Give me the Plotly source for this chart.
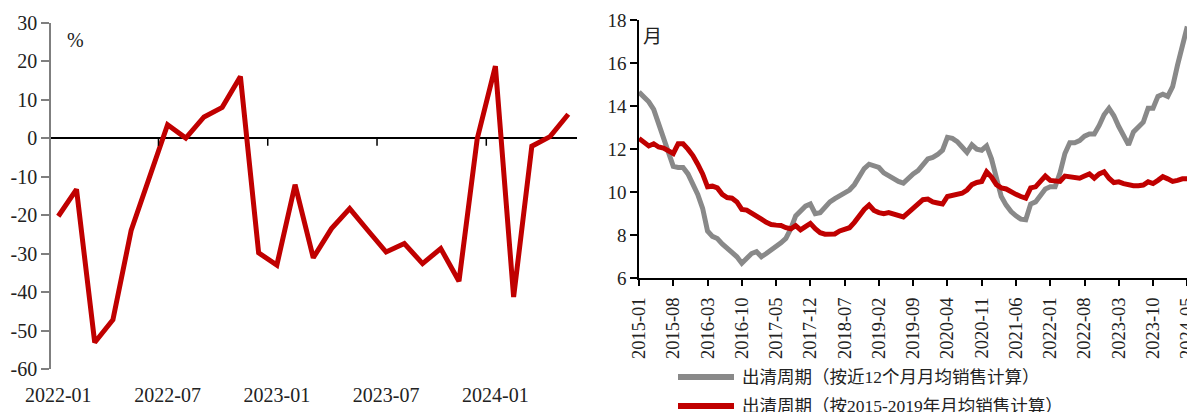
import pandas as pd
import plotly.graph_objects as go

# ---------------- data ----------------
left_months = [d.strftime("%Y-%m") for d in pd.date_range("2022-01-01", "2024-05-01", freq="MS")]
left_values = [-20.3, -13.3, -53.1, -47.2, -24.0, -10.0, 3.5, 0.0, 5.5, 8.0, 16.0, -29.8,
               -33.0, -12.1, -31.1, -23.5, -18.3, -24.0, -29.6, -27.4, -32.6, -28.7, -37.2, -0.2,
               18.7, -41.3, -2.1, 0.4, 6.2]
left_ticks = ["2022-01", "2022-07", "2023-01", "2023-07", "2024-01"]
left_yticks = [30, 20, 10, 0, -10, -20, -30, -40, -50, -60]

right_months = [d.strftime("%Y-%m") for d in pd.date_range("2015-01-01", "2024-05-01", freq="MS")]
grey_values = [14.65, 14.45, 14.2, 13.85, 13.2, 12.5, 11.8, 11.2, 11.15, 11.15, 10.85, 10.35,
               9.9, 9.25, 8.2, 7.95, 7.85, 7.6, 7.4, 7.2, 7.0, 6.7, 6.95, 7.15,
               7.24, 7.0, 7.15, 7.3, 7.5, 7.65, 7.85, 8.3, 8.9, 9.15, 9.35, 9.45,
               9.0, 9.05, 9.3, 9.55, 9.7, 9.85, 9.95, 10.1, 10.35, 10.75, 11.1, 11.3,
               11.2, 11.15, 10.9, 10.75, 10.6, 10.5, 10.42, 10.65, 10.85, 11.0, 11.3, 11.55,
               11.62, 11.75, 11.95, 12.55, 12.5, 12.35, 12.1, 11.85, 12.2, 12.0, 11.95, 12.15,
               11.55, 10.6, 9.8, 9.4, 9.1, 8.9, 8.75, 8.72, 9.45, 9.55, 9.85, 10.15,
               10.25, 10.25, 10.9, 11.8, 12.3, 12.3, 12.4, 12.6, 12.7, 12.7, 13.1, 13.6,
               13.9, 13.55, 13.05, 12.6, 12.2, 12.8, 13.05, 13.25, 13.9, 13.9, 14.45, 14.55,
               14.45, 14.9, 15.9, 16.9, 17.7]
red_values = [12.5, 12.35, 12.15, 12.25, 12.1, 12.05, 11.95, 11.8, 12.25, 12.25, 12.0, 11.7,
              11.3, 10.85, 10.25, 10.28, 10.2, 9.9, 9.75, 9.72, 9.55, 9.2, 9.17, 9.05,
              8.9, 8.75, 8.6, 8.5, 8.47, 8.45, 8.35, 8.3, 8.45, 8.25, 8.4, 8.55,
              8.3, 8.12, 8.05, 8.05, 8.06, 8.2, 8.25, 8.35, 8.6, 8.9, 9.2, 9.4,
              9.15, 9.05, 9.0, 9.05, 8.98, 8.94, 8.85, 9.05, 9.25, 9.45, 9.65, 9.68,
              9.55, 9.5, 9.45, 9.8, 9.85, 9.9, 9.95, 10.1, 10.35, 10.45, 10.5, 10.95,
              10.7, 10.35, 10.2, 10.15, 10.0, 9.9, 9.8, 9.72, 10.2, 10.25, 10.5, 10.75,
              10.55, 10.5, 10.5, 10.75, 10.72, 10.7, 10.65, 10.75, 10.85, 10.65, 10.85, 10.95,
              10.65, 10.45, 10.48, 10.4, 10.33, 10.3, 10.3, 10.33, 10.48, 10.4, 10.55, 10.72,
              10.62, 10.5, 10.55, 10.62, 10.62]
right_ticks = ["2015-01", "2015-08", "2016-03", "2016-10", "2017-05", "2017-12", "2018-07",
               "2019-02", "2019-09", "2020-04", "2020-11", "2021-06", "2022-01", "2022-08",
               "2023-03", "2023-10", "2024-05"]
right_yticks = [6, 8, 10, 12, 14, 16, 18]
grey_name = "出清周期（按近12个月月均销售计算）"
red_name = "出清周期（按2015-2019年月均销售计算）"

# ---------------- style ----------------
# page has an 8px body margin, so the figure is shifted by 8px; lay out in page pixels
OFF = 8
W, H = 1195 - OFF, 412 - OFF


def fx(px):
    return (px - OFF) / W


def fy(py):
    return 1 - (py - OFF) / H


SERIF = "Liberation Serif, Times New Roman, serif"
MIX = "Liberation Serif, Noto Sans CJK SC, serif"
RED = "#C00000"
GREY = "#898989"

fig = go.Figure()

fig.add_trace(go.Scatter(x=left_months, y=left_values, mode="lines",
                         line=dict(color=RED, width=5), showlegend=False,
                         xaxis="x", yaxis="y"))
fig.add_trace(go.Scatter(x=right_months, y=grey_values, mode="lines", name=grey_name,
                         line=dict(color=GREY, width=5), showlegend=False,
                         xaxis="x2", yaxis="y2"))
fig.add_trace(go.Scatter(x=right_months, y=red_values, mode="lines", name=red_name,
                         line=dict(color=RED, width=5), showlegend=False,
                         xaxis="x2", yaxis="y2"))

# tick marks sitting on the zero line of the left chart (between categories)
for t in left_ticks[1:]:
    pos = left_months.index(t) - 0.5
    fig.add_shape(type="line", xref="x", yref="y", x0=pos, x1=pos, y0=0, y1=-2,
                  line=dict(color="black", width=1.5))

# legend below the right chart (long line swatches + labels)
for i, (name, color) in enumerate([(grey_name, GREY), (red_name, RED)]):
    ly = 377 + i * 29
    fig.add_shape(type="line", xref="paper", yref="paper", x0=fx(678), x1=fx(734),
                  y0=fy(ly), y1=fy(ly), line=dict(color=color, width=6))
    fig.add_annotation(x=fx(740), y=fy(ly), xref="paper", yref="paper", text=name,
                       showarrow=False, xanchor="left", yanchor="middle",
                       font=dict(family=MIX, size=17.5, color="#222"))

fig.add_annotation(x=fx(75), y=fy(40), xref="paper", yref="paper", text="%",
                   showarrow=False, xanchor="center", yanchor="middle",
                   font=dict(family=SERIF, size=20, color="#222"))
fig.add_annotation(x=fx(652), y=fy(34), xref="paper", yref="paper", text="月",
                   showarrow=False, xanchor="center", yanchor="middle",
                   font=dict(family="Noto Sans CJK SC", size=19, color="#222"))

fig.update_layout(
    template="none",
    width=W, height=H, margin=dict(l=0, r=0, t=0, b=0, autoexpand=False),
    paper_bgcolor="white", plot_bgcolor="white", showlegend=False,
    font=dict(family=SERIF, size=19, color="#222"),
    xaxis=dict(domain=[fx(51), fx(577)], type="category", range=[-0.4, 28.48],
               tickvals=left_ticks, ticktext=left_ticks, showline=False, showgrid=False,
               zeroline=False, ticks="", ticklabelstandoff=12, anchor="y", automargin=False,
               tickfont=dict(family=SERIF, size=20)),
    yaxis=dict(domain=[fy(369), fy(22.7)], range=[-60, 30], tickvals=left_yticks,
               ticktext=[str(v) for v in left_yticks],
               showline=True, linecolor="#7f7f7f", linewidth=1.5, ticks="outside",
               ticklen=8, tickcolor="#7f7f7f", tickwidth=1.5, showgrid=False,
               zeroline=True, zerolinecolor="black", zerolinewidth=1.5, anchor="x",
               automargin=False, tickfont=dict(family=SERIF, size=20)),
    xaxis2=dict(domain=[fx(639), fx(1190)], type="category", range=[0, 112.55],
                tickvals=right_ticks, ticktext=right_ticks, tickangle=-90,
                showline=True, linecolor="black", linewidth=1.5, ticks="outside",
                ticklen=6, tickcolor="black", tickwidth=1.5, showgrid=False,
                zeroline=False, anchor="y2", automargin=False, ticklabelstandoff=4,
                tickfont=dict(family=SERIF, size=18.5)),
    yaxis2=dict(domain=[fy(278.3), fy(20)], range=[6, 18], tickvals=right_yticks,
                showline=True, linecolor="black", linewidth=1.5, ticks="outside",
                ticklen=7, tickcolor="black", tickwidth=1.5, showgrid=False,
                zeroline=False, anchor="x2", automargin=False,
                tickfont=dict(family=SERIF, size=19)),
)

fig.write_html("out.html")
